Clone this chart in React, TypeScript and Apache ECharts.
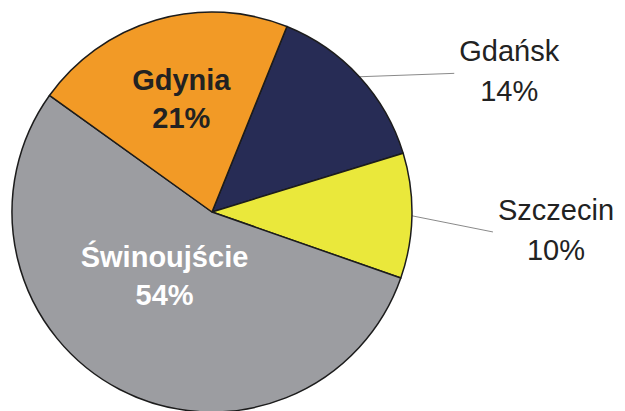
import React, { useEffect, useRef } from "react";
import * as echarts from "echarts";

const categories = ["Gdańsk", "Szczecin", "Świnoujście", "Gdynia"];
const values = [14, 10, 54, 21];
const colors = ["#272C55", "#EAE83B", "#9C9DA1", "#F29A26"];
const insideNames = ["Świnoujście", "Gdynia"];
const insideTextColors: Record<string, string> = { "Świnoujście": "#FFFFFF", Gdynia: "#222222" };
const labelShift: Record<string, [number, number]> = {
  "Świnoujście": [0, -27],
  Gdynia: [-2, -14],
  "Gdańsk": [4, 0],
  Szczecin: [-12, 14],
};

const FONT = "'Liberation Sans', Arial, sans-serif";

export default function App() {
  const ref = useRef<HTMLDivElement>(null);
  useEffect(() => {
    const chart = echarts.init(ref.current!, null, { renderer: "svg" });
    const data = categories.map((name, i) => {
      const item: any = { name, value: values[i], itemStyle: { color: colors[i] } };
      if (insideNames.includes(name)) {
        item.label = {
          show: true,
          position: "inside",
          formatter: "{t|{b}}\n{t|{c}%}",
          rich: {
            t: {
              fontFamily: FONT,
              fontSize: 29,
              fontWeight: "bold",
              color: insideTextColors[name],
              lineHeight: 38,
              align: "center",
            },
          },
        };
        item.labelLine = { show: false };
      }
      return item;
    });
    chart.setOption({
      animation: false,
      series: [
        {
          type: "pie",
          center: [212, 212],
          radius: 200,
          startAngle: 68,
          clockwise: true,
          avoidLabelOverlap: false,
          emphasis: { disabled: true },
          itemStyle: { borderColor: "#1c1c1c", borderWidth: 1.5 },
          label: {
            show: true,
            position: "outside",
            formatter: "{t|{b}}\n{t|{c}%}",
            rich: {
              t: {
                fontFamily: FONT,
                fontSize: 29,
                color: "#222222",
                lineHeight: 40,
                align: "center",
              },
            },
          },
          labelLine: {
            show: true,
            length: 8,
            length2: 85,
            lineStyle: { color: "#8a8a8a", width: 1 },
          },
          labelLayout: (params: any) => {
            const name = categories[params.dataIndex];
            const [dx, dy] = labelShift[name] || [0, 0];
            if (insideNames.includes(name)) return { dx, dy };
            const pts = params.labelLinePoints;
            const r = params.labelRect;
            if (!pts || !r) return { dx, dy };
            const start = pts[0];
            const end = [r.x + dx - 5, r.y + r.height / 2 + dy + 2];
            return { dx, dy, labelLinePoints: [start, start, end] };
          },
          data,
        },
      ],
    });
    return () => chart.dispose();
  }, []);
  return (
    <div
      ref={ref}
      style={{ position: "absolute", left: 0, top: 0, width: 625, height: 411 }}
    />
  );
}
